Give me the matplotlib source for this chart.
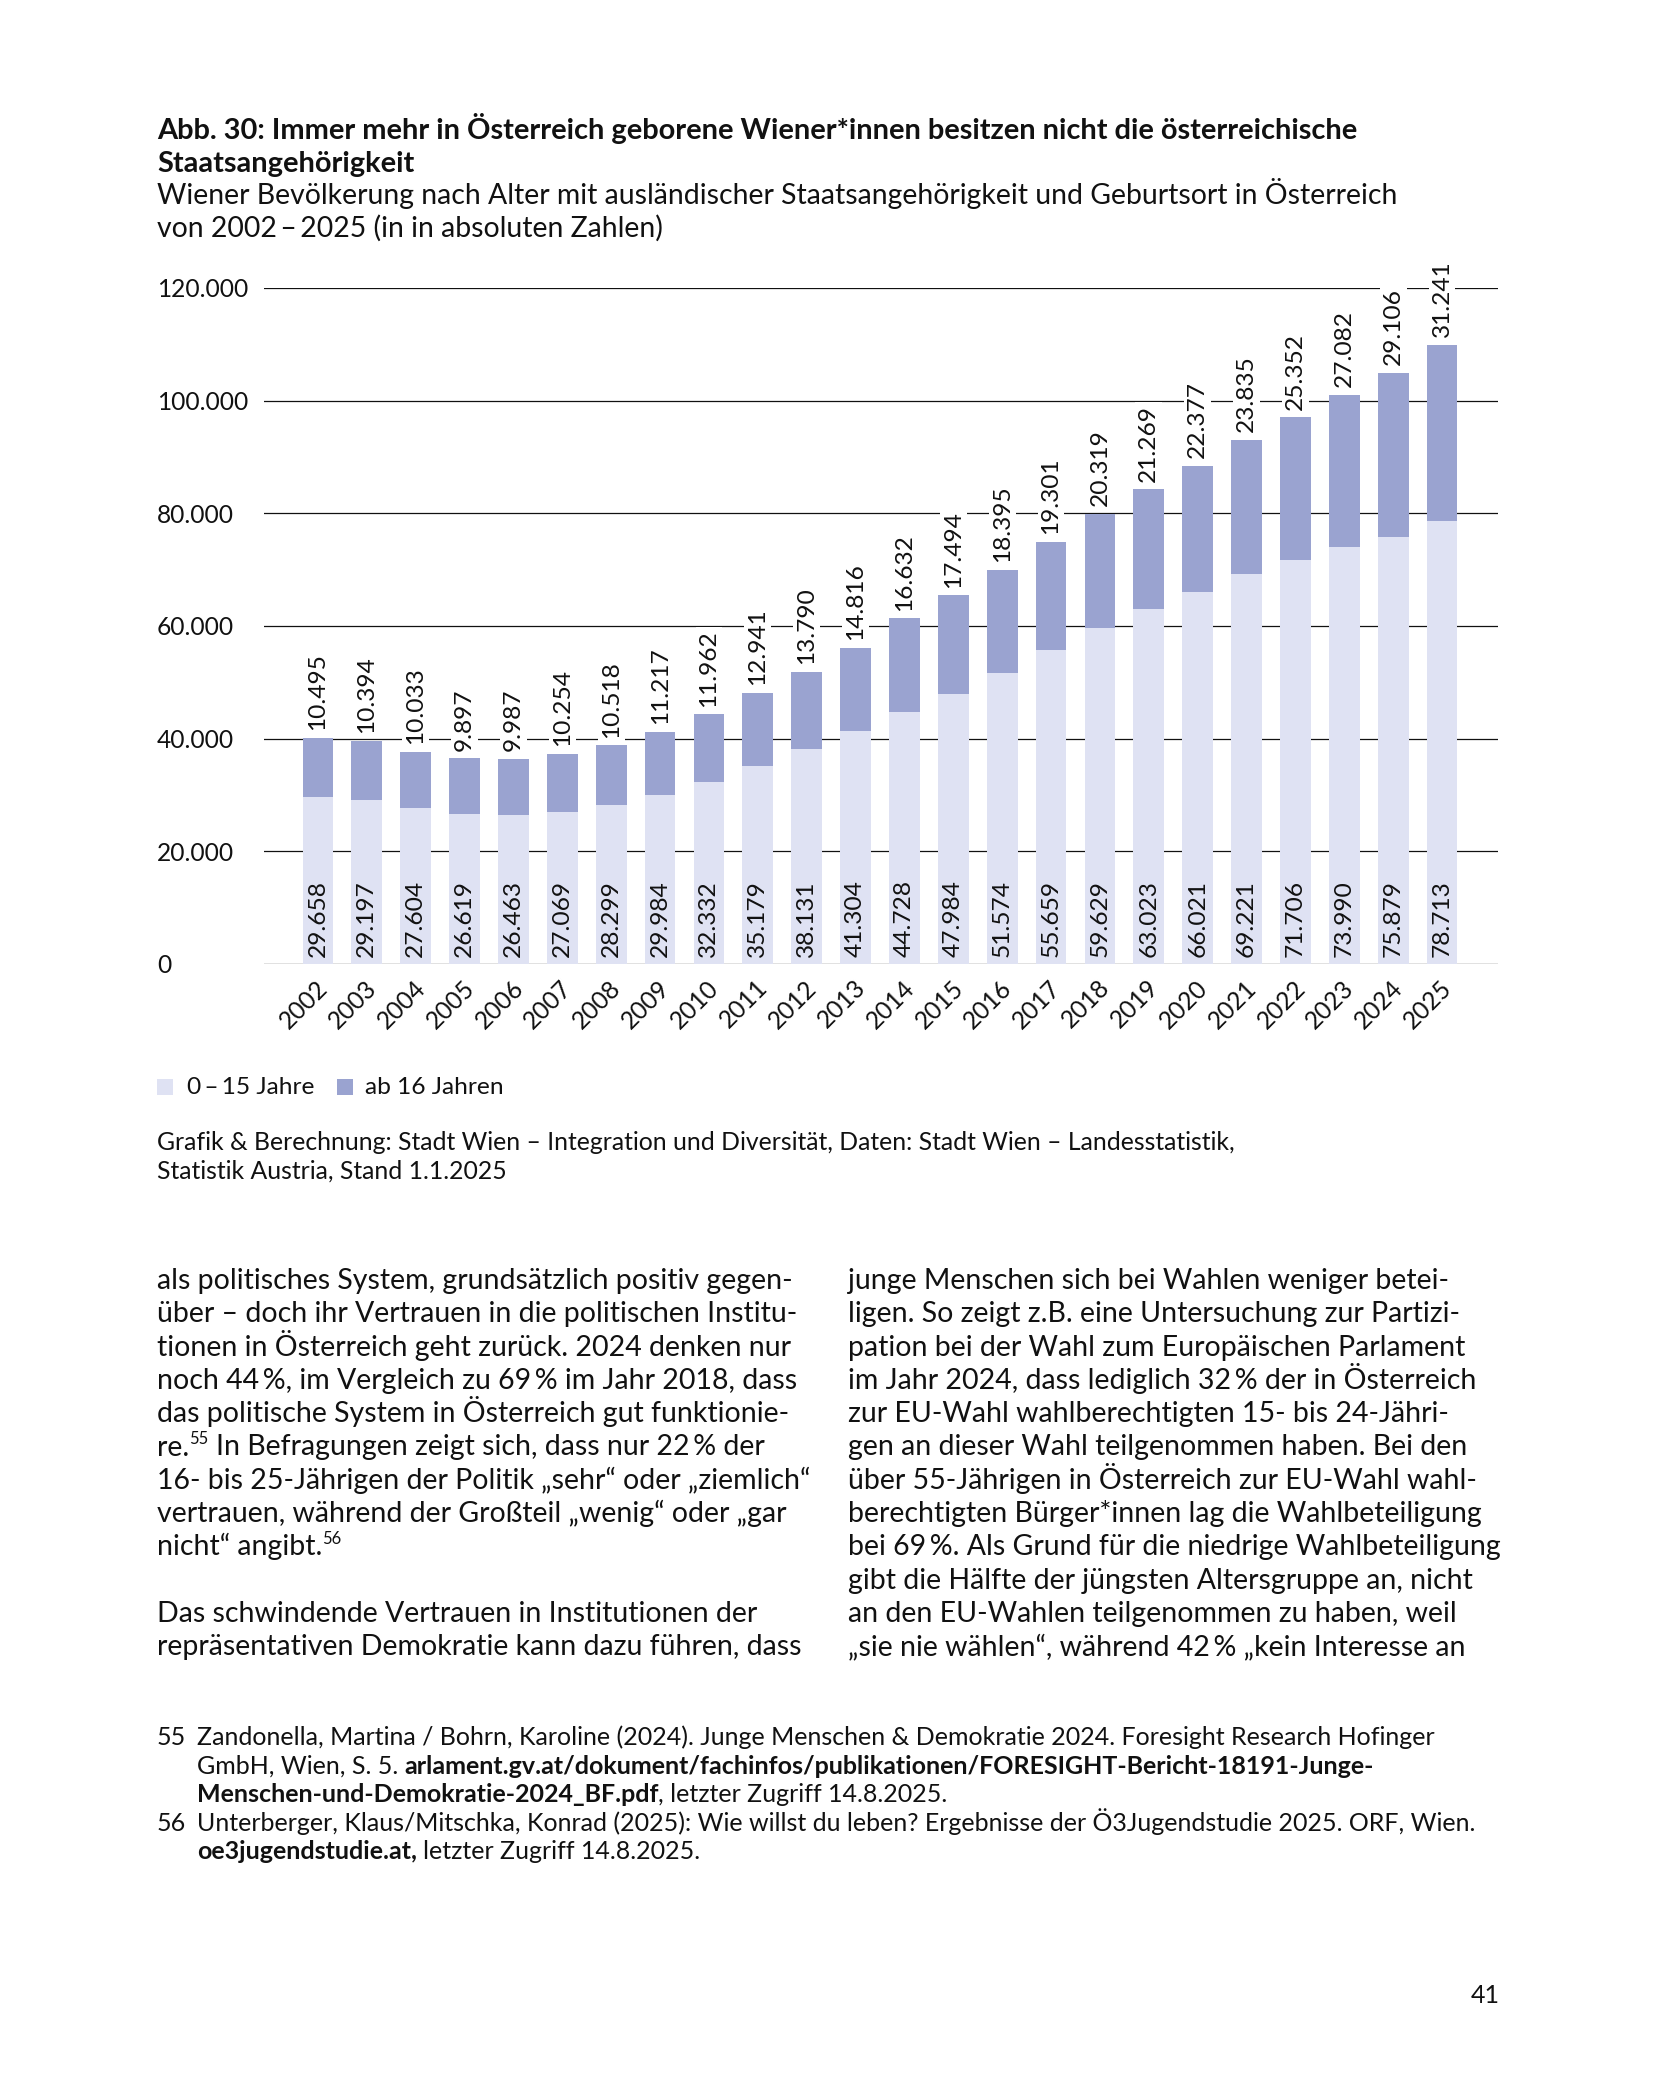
import matplotlib
matplotlib.use('Agg')
import matplotlib.pyplot as plt
from matplotlib.transforms import ScaledTranslation
from matplotlib.patches import Rectangle

FAM = ['Lato', 'DejaVu Sans']
plt.rcParams['font.family'] = FAM

# ---------------- data ----------------
years = ['2002', '2003', '2004', '2005', '2006', '2007', '2008', '2009', '2010',
         '2011', '2012', '2013', '2014', '2015', '2016', '2017', '2018', '2019',
         '2020', '2021', '2022', '2023', '2024', '2025']
young = [29658, 29197, 27604, 26619, 26463, 27069, 28299, 29984, 32332, 35179,
         38131, 41304, 44728, 47984, 51574, 55659, 59629, 63023, 66021, 69221,
         71706, 73990, 75879, 78713]
old = [10495, 10394, 10033, 9897, 9987, 10254, 10518, 11217, 11962, 12941,
       13790, 14816, 16632, 17494, 18395, 19301, 20319, 21269, 22377, 23835,
       25352, 27082, 29106, 31241]
yticks = [0, 20000, 40000, 60000, 80000, 100000, 120000]
ytick_labels = ['0', '20.000', '40.000', '60.000', '80.000', '100.000', '120.000']
legend_labels = ['0\u2009–\u200915 Jahre', 'ab 16 Jahren']

title_lines = ['Abb. 30: Immer mehr in Österreich geborene Wiener*innen besitzen nicht die österreichische',
               'Staatsangehörigkeit']
subtitle_lines = ['Wiener Bevölkerung nach Alter mit ausländischer Staatsangehörigkeit und Geburtsort in Österreich',
                  'von 2002\u2009–\u20092025 (in in absoluten Zahlen)']
source_lines = ['Grafik & Berechnung: Stadt Wien – Integration und Diversität, Daten: Stadt Wien – Landesstatistik,',
                'Statistik Austria, Stand 1.1.2025']

C_YOUNG = '#dfe2f3'
C_OLD = '#9aa3d0'
TXT = '#111111'

W, H = 1654, 2087
fig = plt.figure(figsize=(W / 100, H / 100), dpi=100)
fig.patch.set_facecolor('white')
renderer = fig.canvas.get_renderer()


def measure(s, size, weight='normal'):
    t = fig.text(0, 0, s, fontsize=size, family=FAM, weight=weight)
    w = t.get_window_extent(renderer=renderer).width
    t.remove()
    return w


def adv(s, size, weight='normal'):
    return measure(s + '|', size, weight) - measure('|', size, weight)


def fit(s, target, weight='normal'):
    return 20 * target / measure(s, 20, weight)


def put(x, y, s, size, weight='normal', ha='left'):
    fig.text(x / W, 1 - y / H, s, fontsize=size, family=FAM, weight=weight,
             va='baseline', ha=ha, color=TXT)


def segs(x, y, parts, size):
    for p in parts:
        if isinstance(p, (int, float)):
            x += p
            continue
        s, weight, scale, rise = p
        sz = size * scale
        put(x, y - rise, s, sz, weight)
        x += adv(s, sz, weight)


# ---------------- sizes ----------------
s_title = fit(title_lines[0], 1203, 'bold')
s_sub = fit(subtitle_lines[0], 1243)
s_body = 0.5 * (fit('als politisches System, grundsätzlich positiv gegen-', 640) +
                fit('bei 69\u2009%. Als Grund für die niedrige Wahlbeteiligung', 650))
s_src = fit(source_lines[0], 1080)
s_foot = fit('Zandonella, Martina / Bohrn, Karoline (2024). Junge Menschen & Demokratie 2024. Foresight Research Hofinger', 1242)
s_leg = fit(legend_labels[1], 139)
s_tick = fit('120.000', 91)
s_val = fit('29.658', 73) * 1.05

# ---------------- titles ----------------
put(157, 139, title_lines[0], s_title, 'bold')
put(157, 172, title_lines[1], s_title, 'bold')
put(157, 204, subtitle_lines[0], s_sub)
put(157, 237, subtitle_lines[1], s_sub)

# ---------------- chart ----------------
ax = fig.add_axes([264 / W, 1 - 964 / H, (1498 - 264) / W, (964 - 288) / H])
xs = list(range(len(years)))
ax.bar(xs, young, width=0.63, color=C_YOUNG, zorder=2)
ax.bar(xs, old, bottom=young, width=0.63, color=C_OLD, zorder=2)
ax.set_ylim(0, 120000)
ax.set_xlim(-1.105, 24.146)
ax.set_yticks(yticks)
ax.set_yticklabels(ytick_labels)
ax.grid(axis='y', color='#111111', lw=0.9, zorder=0)
ax.grid(axis='x', visible=False)
ax.set_axisbelow(True)
for sp in ax.spines.values():
    sp.set_visible(False)
ax.tick_params(axis='y', length=0, pad=(264 - 157) * 0.72, labelsize=s_tick, labelcolor=TXT)
for lab in ax.get_yticklabels():
    lab.set_ha('left')
ax.set_xticks(xs)
ax.set_xticklabels(years, rotation=45, ha='right', va='center', rotation_mode='anchor')
ax.tick_params(axis='x', length=0, pad=14.4, labelsize=s_tick, labelcolor=TXT)
for lab in ax.get_xticklabels():
    lab.set_transform(lab.get_transform() + ScaledTranslation(0.06, 0, fig.dpi_scale_trans))


def fmt(v):
    return f"{v:,}".replace(',', '.')


for i in xs:
    ax.annotate(fmt(young[i]), (i, 0), xytext=(0, 5), textcoords='offset points',
                rotation=90, ha='center', va='bottom', fontsize=s_val, color=TXT, zorder=4)
    ax.annotate(fmt(old[i]), (i, young[i] + old[i]), xytext=(0, 5.5), textcoords='offset points',
                rotation=90, ha='center', va='bottom', fontsize=s_val, color=TXT, zorder=4,
                annotation_clip=False,
                bbox=dict(boxstyle='square,pad=0.12', fc='white', ec='none'))

# ---------------- legend ----------------
for xq, col, lab, xt in [(157, C_YOUNG, legend_labels[0], 187), (337, C_OLD, legend_labels[1], 365)]:
    fig.patches.append(Rectangle((xq / W, 1 - 1095 / H), 16 / W, 16 / H,
                                 transform=fig.transFigure, facecolor=col, edgecolor='none'))
    put(xt, 1094, lab, s_leg)

put(157, 1150, source_lines[0], s_src)
put(157, 1179, source_lines[1], s_src)

# ---------------- body text ----------------
y0 = 1289
dy = 33.3
sp_body = adv(' ', s_body)
left = [
    'als politisches System, grundsätzlich positiv gegen-',
    'über – doch ihr Vertrauen in die politischen Institu-',
    'tionen in Österreich geht zurück. 2024 denken nur',
    'noch 44\u2009%, im Vergleich zu 69\u2009% im Jahr 2018, dass',
    'das politische System in Österreich gut funktionie-',
    None,
    '16- bis 25-Jährigen der Politik „sehr“ oder „ziemlich“',
    'vertrauen, während der Großteil „wenig“ oder „gar',
    None,
    '',
    'Das schwindende Vertrauen in Institutionen der',
    'repräsentativen Demokratie kann dazu führen, dass',
]
for k, line in enumerate(left):
    y = y0 + k * dy
    if k == 5:
        segs(157, y, [('re.', 'normal', 1, 0), ('55', 'normal', 0.58, s_body * 0.55),
                      sp_body, ('In Befragungen zeigt sich, dass nur 22\u2009% der', 'normal', 1, 0)], s_body)
    elif k == 8:
        segs(157, y, [('nicht“ angibt.', 'normal', 1, 0), ('56', 'normal', 0.58, s_body * 0.55)], s_body)
    elif line:
        put(157, y, line, s_body)

right = [
    'junge Menschen sich bei Wahlen weniger betei-',
    'ligen. So zeigt z.B. eine Untersuchung zur Partizi-',
    'pation bei der Wahl zum Europäischen Parlament',
    'im Jahr 2024, dass lediglich 32\u2009% der in Österreich',
    'zur EU-Wahl wahlberechtigten 15- bis 24-Jähri-',
    'gen an dieser Wahl teilgenommen haben. Bei den',
    'über 55-Jährigen in Österreich zur EU-Wahl wahl-',
    'berechtigten Bürger*innen lag die Wahlbeteiligung',
    'bei 69\u2009%. Als Grund für die niedrige Wahlbeteiligung',
    'gibt die Hälfte der jüngsten Altersgruppe an, nicht',
    'an den EU-Wahlen teilgenommen zu haben, weil',
    '„sie nie wählen“, während 42\u2009% „kein Interesse an',
]
for k, line in enumerate(right):
    put(848, y0 + k * dy, line, s_body)

# ---------------- footnotes ----------------
fy = 1745
fdy = 28.6
sp_f = adv(' ', s_foot)
put(157, fy, '55', s_foot)
segs(197, fy, [('Zandonella, Martina / Bohrn, Karoline (2024). Junge Menschen & Demokratie 2024. Foresight Research Hofinger', 'normal', 1, 0)], s_foot)
segs(197, fy + fdy, [('GmbH, Wien, S. 5.', 'normal', 1, 0), sp_f,
                     ('arlament.gv.at/dokument/fachinfos/publikationen/FORESIGHT-Bericht-18191-Junge-', 'bold', 1, 0)], s_foot)
segs(197, fy + 2 * fdy, [('Menschen-und-Demokratie-2024_BF.pdf', 'bold', 1, 0),
                         (', letzter Zugriff 14.8.2025.', 'normal', 1, 0)], s_foot)
put(157, fy + 3 * fdy, '56', s_foot)
segs(197, fy + 3 * fdy, [('Unterberger, Klaus/Mitschka, Konrad (2025): Wie willst du leben? Ergebnisse der Ö3Jugendstudie 2025. ORF, Wien.', 'normal', 1, 0)], s_foot)
segs(197, fy + 4 * fdy, [('oe3jugendstudie.at,', 'bold', 1, 0), sp_f,
                         ('letzter Zugriff 14.8.2025.', 'normal', 1, 0)], s_foot)

put(1500, 2003, '41', s_foot, ha='right')

fig.savefig('out.png', dpi=100, facecolor='white')
